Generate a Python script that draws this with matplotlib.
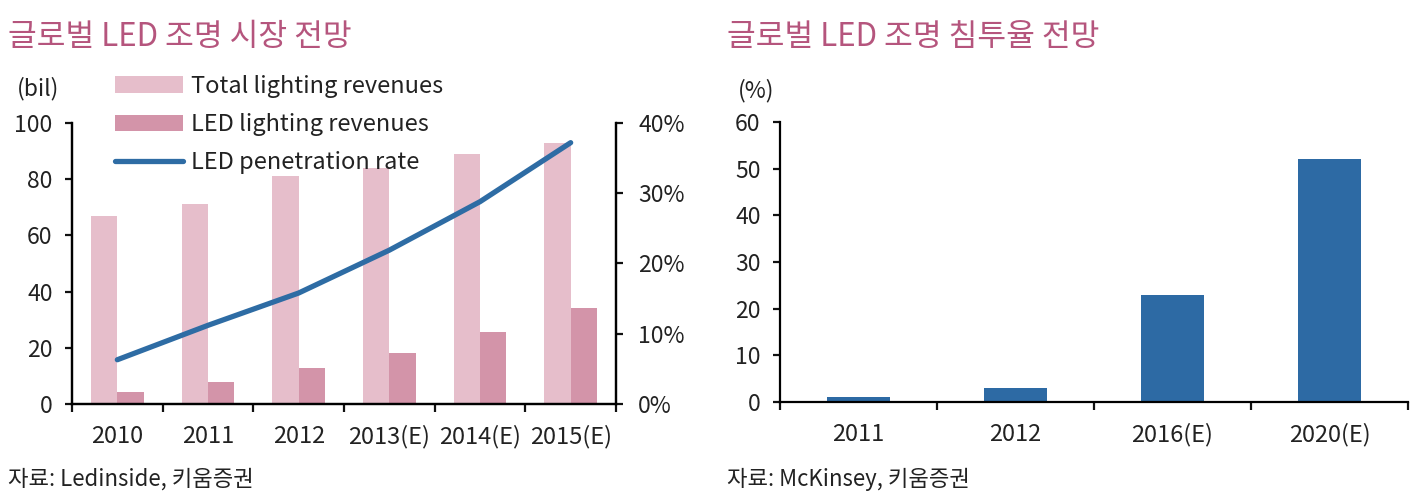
import matplotlib
matplotlib.use("Agg")
import matplotlib.pyplot as plt
from matplotlib.ticker import FixedLocator, FuncFormatter
import numpy as np

plt.rcParams['font.family'] = ['Noto Sans CJK KR', 'DejaVu Sans']
plt.rcParams['font.weight'] = 'light'
plt.rcParams['text.color'] = '#222222'
plt.rcParams['xtick.color'] = '#111111'
plt.rcParams['ytick.color'] = '#111111'
plt.rcParams['xtick.labelcolor'] = '#222222'
plt.rcParams['ytick.labelcolor'] = '#222222'

# ---- data ----
years_left = ["2010", "2011", "2012", "2013(E)", "2014(E)", "2015(E)"]
total_rev = [67, 71, 81, 84, 89, 93]
led_rev = [4.3, 7.8, 12.8, 18.1, 25.6, 34.2]
penetration = [6.3, 11.2, 15.8, 21.9, 28.8, 37.2]

years_right = ["2011", "2012", "2016(E)", "2020(E)"]
pen_mck = [1, 3, 23, 52]

title_color = "#B5557D"
c_total = "#E6BECB"
c_led = "#D394A9"
c_line = "#2E6CA4"
c_bar = "#2D6AA4"

W, H = 1423, 498
fig = plt.figure(figsize=(W / 100, H / 100), dpi=100)

def fx(px):
    return px / W

def fy(py):
    return 1 - py / H

tick_fs = 16.5
xtick_fs = 17
lw_sp = 1.6

# ---- left chart ----
ax = fig.add_axes([fx(72), fy(404), fx(616 - 72), (404 - 123) / H])
x = np.arange(len(years_left))
bw = 0.29
b1 = ax.bar(x - bw / 2, total_rev, bw, color=c_total, label="Total lighting revenues", zorder=2)
b2 = ax.bar(x + bw / 2, led_rev, bw, color=c_led, label="LED lighting revenues", zorder=2)
ax.set_xlim(-0.5, len(x) - 0.5)
ax.set_ylim(0, 100)
ax.set_yticks(np.arange(0, 101, 20))
ax.set_xticks(x)
ax.set_xticklabels(years_left)
ax.xaxis.set_minor_locator(FixedLocator(np.arange(-0.5, len(x), 1)))
ax.tick_params(axis='x', which='major', length=0, pad=15, labelsize=xtick_fs)
ax.tick_params(axis='x', which='minor', length=6, width=lw_sp, direction='out')
ax.tick_params(axis='y', length=5, width=lw_sp, pad=9, labelsize=tick_fs)
ax.spines['top'].set_visible(False)
for s in ['left', 'bottom', 'right']:
    ax.spines[s].set_linewidth(lw_sp)

ax2 = ax.twinx()
l1, = ax2.plot(x, penetration, color=c_line, lw=3.8, label="LED penetration rate", solid_capstyle='round')
ax2.set_ylim(0, 40)
ax2.set_yticks(np.arange(0, 41, 10))
ax2.yaxis.set_major_formatter(FuncFormatter(lambda v, p: f"{int(v)}%"))
ax2.tick_params(axis='y', length=5, width=lw_sp, pad=11, labelsize=tick_fs)
ax2.spines['top'].set_visible(False)
for s in ['left', 'bottom', 'right']:
    ax2.spines[s].set_linewidth(lw_sp)

fig.text(fx(17), fy(89), "(bil)", fontsize=tick_fs, va='center', ha='left')

fig.legend(handles=[b1, b2, l1], loc='upper left',
           bbox_to_anchor=(fx(115), fy(75)), frameon=False, fontsize=xtick_fs,
           handlelength=2.9, handletextpad=0.3, labelspacing=0.64,
           borderaxespad=0, borderpad=0)

fig.text(fx(8), fy(37), "글로벌 LED 조명 시장 전망", fontsize=22.5, color=title_color,
         va='center', ha='left')
fig.text(fx(8), fy(479), "자료: Ledinside, 키움증권", fontsize=16, va='center', ha='left')

# ---- right chart ----
axr = fig.add_axes([fx(780), fy(402), fx(1408 - 780), (402 - 122) / H])
xr = np.arange(len(years_right))
axr.bar(xr, pen_mck, 0.4, color=c_bar, zorder=2)
axr.set_xlim(-0.5, len(xr) - 0.5)
axr.set_ylim(0, 60)
axr.set_yticks(np.arange(0, 61, 10))
axr.set_xticks(xr)
axr.set_xticklabels(years_right)
axr.xaxis.set_minor_locator(FixedLocator(np.arange(-0.5, len(xr), 1)))
axr.tick_params(axis='x', which='major', length=0, pad=15, labelsize=xtick_fs)
axr.tick_params(axis='x', which='minor', length=6, width=lw_sp, direction='out')
axr.tick_params(axis='y', length=5, width=lw_sp, pad=9, labelsize=tick_fs)
for s in ['top', 'right']:
    axr.spines[s].set_visible(False)
for s in ['left', 'bottom']:
    axr.spines[s].set_linewidth(lw_sp)

fig.text(fx(738), fy(91), "(%)", fontsize=tick_fs, va='center', ha='left')
fig.text(fx(727), fy(37), "글로벌 LED 조명 침투율 전망", fontsize=22.5, color=title_color,
         va='center', ha='left')
fig.text(fx(727), fy(479), "자료: McKinsey, 키움증권", fontsize=16, va='center', ha='left')

fig.savefig("out.png", dpi=100)
